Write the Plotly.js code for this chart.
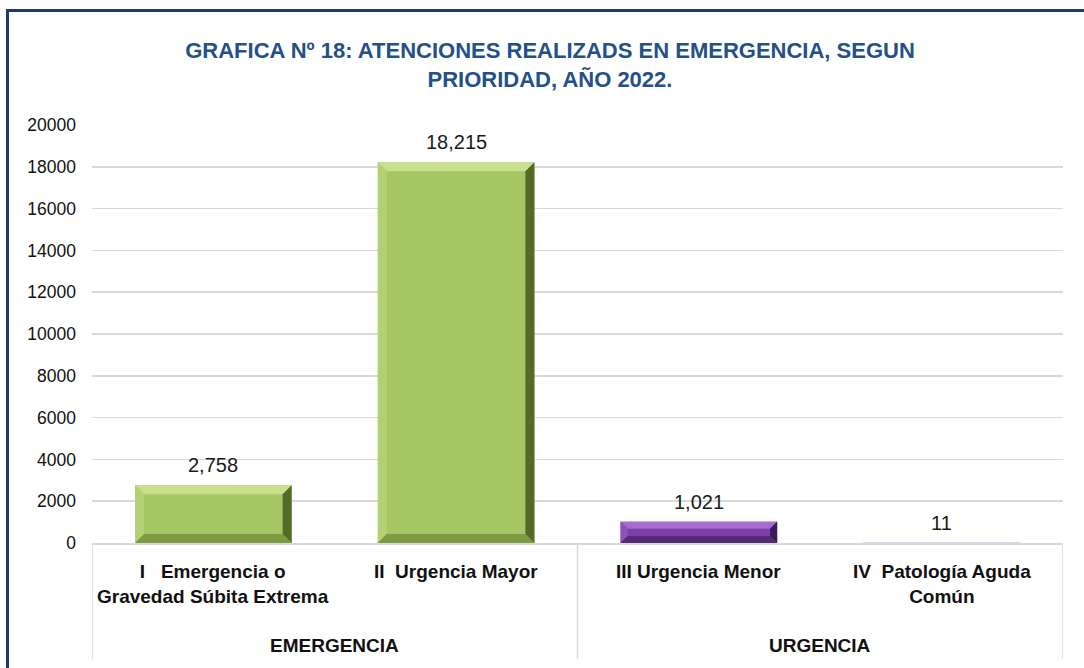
<!DOCTYPE html>
<html>
<head>
<meta charset="utf-8">
<script src="https://cdn.plot.ly/plotly-3.0.1.min.js"></script>
<style>
  html, body { margin: 0; padding: 0; background: #fff; }
  #wrap { position: relative; width: 1084px; height: 668px; overflow: hidden; }
  #chart { width: 1084px; height: 668px; }
  #frame { position: absolute; left: 6px; top: 9px; width: 2000px; height: 2000px;
           border-top: 3px solid #1C3A6E; border-left: 3px solid #1C3A6E; pointer-events: none; }
</style>
</head>
<body>
<div id="wrap">
  <div id="chart"></div>
  <div id="frame"></div>
</div>
<script>
// ---- data ----
const categories = ["I   Emergencia o<br>Gravedad Súbita Extrema", "II  Urgencia Mayor", "III Urgencia Menor", "IV  Patología Aguda<br>Común"];
const groups = ["EMERGENCIA", "EMERGENCIA", "URGENCIA", "URGENCIA"];
const values = [2758, 18215, 1021, 11];
const yTicks = [0, 2000, 4000, 6000, 8000, 10000, 12000, 14000, 16000, 18000, 20000];
const titleText = "GRAFICA Nº 18: ATENCIONES REALIZADS EN EMERGENCIA, SEGUN<br>PRIORIDAD, AÑO 2022.";

// ---- styles ----
const FONT = "'Liberation Sans', Arial, sans-serif";
const groupPalette = {
  "EMERGENCIA": {face: "#A6C664", top: "#C8E08E", left: "#B3D174", right: "#536B27", bottom: "#7E9B44"},
  "URGENCIA":   {face: "#7D3EA6", top: "#A56BCD", left: "#8E50B9", right: "#3D1A58", bottom: "#542978"}
};
const BAR_W = 0.645;
const M = {l: 92, r: 21, t: 125, b: 125};
const W = 1084, H = 668;
const plotW = W - M.l - M.r, plotH = H - M.t - M.b;
const yMax = 20000;
const pxPerX = plotW / 4, pxPerY = plotH / yMax;

const xIdx = categories.map((c, i) => i);

const bar = {
  type: "bar",
  x: xIdx,
  y: values,
  width: BAR_W,
  marker: {color: groups.map(g => groupPalette[g].face), line: {width: 0}},
  hoverinfo: "skip"
};

// bevel shapes derived from bar geometry
const shapes = [];
values.forEach((v, i) => {
  const hpx = v * pxPerY;
  if (hpx < 3) return;
  const bpx = Math.min(9, hpx * 0.33);
  const bx = bpx / pxPerX, by = bpx / pxPerY;
  const x0 = i - BAR_W / 2, x1 = i + BAR_W / 2, y0 = 0, y1 = v;
  const p = groupPalette[groups[i]];
  const poly = (pts, col) => shapes.push({
    type: "path", xref: "x", yref: "y", layer: "above",
    path: "M" + pts.map(q => q[0] + "," + q[1]).join(" L") + " Z",
    fillcolor: col, line: {width: 0}
  });
  poly([[x0, y1], [x1, y1], [x1 - bx, y1 - by], [x0 + bx, y1 - by]], p.top);
  poly([[x0, y0], [x0, y1], [x0 + bx, y1 - by], [x0 + bx, y0 + by]], p.left);
  poly([[x1, y0], [x1, y1], [x1 - bx, y1 - by], [x1 - bx, y0 + by]], p.right);
  poly([[x0, y0], [x1, y0], [x1 - bx, y0 + by], [x0 + bx, y0 + by]], p.bottom);
});

// category separators (group boundaries)
const sepY = -116 / plotH;
const bounds = [-0.5];
groups.forEach((g, i) => { if (i === groups.length - 1 || groups[i + 1] !== g) bounds.push(i + 0.5); });
bounds.forEach(b => shapes.push({
  type: "line", xref: "x", yref: "paper", x0: b, x1: b, y0: 0, y1: sepY,
  line: {color: "#D9D9D9", width: 1.5}
}));

const annotations = [];
// value labels
values.forEach((v, i) => annotations.push({
  x: i, y: v, xref: "x", yref: "y", yanchor: "bottom", yshift: 7,
  text: v.toLocaleString("en-US"), showarrow: false,
  font: {family: FONT, size: 20, color: "#1a1a1a"}
}));
// category labels
categories.forEach((c, i) => annotations.push({
  x: i, y: -16 / plotH, xref: "x", yref: "paper", yanchor: "top",
  text: "<b>" + c + "</b>", showarrow: false,
  font: {family: FONT, size: 19, color: "#111"}
}));
// group labels
const uniq = [...new Set(groups)];
uniq.forEach(g => {
  const idx = groups.map((x, i) => x === g ? i : -1).filter(i => i >= 0);
  const mid = (idx[0] + idx[idx.length - 1]) / 2;
  annotations.push({
    x: mid, y: -102 / plotH, xref: "x", yref: "paper", yanchor: "middle",
    text: "<b>" + g + "</b>", showarrow: false,
    font: {family: FONT, size: 19, color: "#111"}
  });
});

const layout = {
  width: W, height: H,
  margin: M,
  paper_bgcolor: "#fff", plot_bgcolor: "#fff",
  showlegend: false,
  title: {
    text: "<b>" + titleText + "</b>",
    x: 550 / W, xref: "container", xanchor: "center",
    y: 1 - 58 / H, yref: "container", yanchor: "middle",
    font: {family: FONT, size: 22, color: "#24508A"}
  },
  xaxis: {
    type: "linear", range: [-0.5, categories.length - 0.5],
    showticklabels: false, showgrid: false, zeroline: false,
    showline: true, linecolor: "#D9D9D9", linewidth: 1.5, ticks: "", fixedrange: true
  },
  yaxis: {
    range: [0, yMax], tickvals: yTicks, ticktext: yTicks.map(String),
    showgrid: true, gridcolor: "#D9D9D9", gridwidth: 1.5,
    zeroline: false, showline: false, ticks: "",
    ticklabelstandoff: 15,
    tickfont: {family: FONT, size: 17.5, color: "#111"}, fixedrange: true
  },
  shapes: shapes,
  annotations: annotations,
  bargap: 0.355
};

Plotly.newPlot("chart", [bar], layout, {displayModeBar: false, staticPlot: true});
</script>
</body>
</html>
